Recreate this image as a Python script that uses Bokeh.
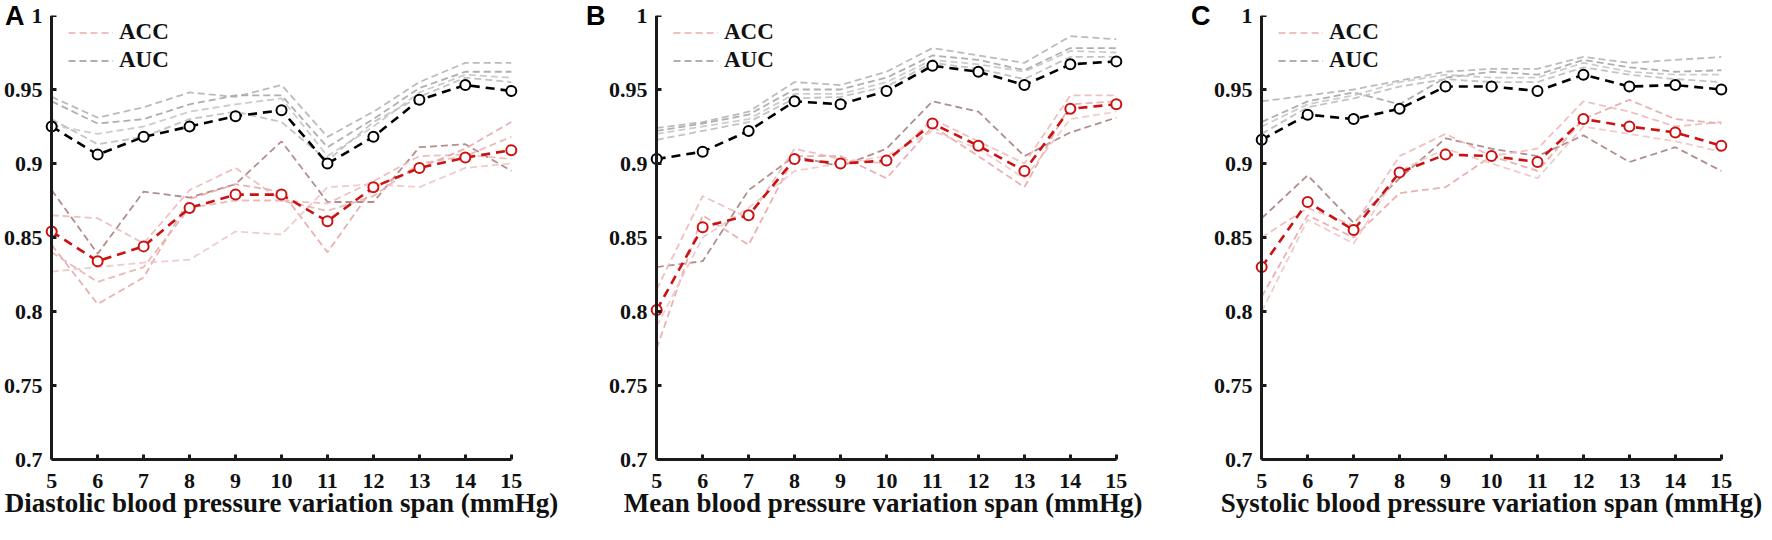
from bokeh.plotting import figure
from bokeh.layouts import row
from bokeh.models import Range1d, FixedTicker, CustomJSTickFormatter, Legend, LegendItem, LinearAxis
from bokeh.embed import file_html
from bokeh.resources import INLINE

spans = [5, 6, 7, 8, 9, 10, 11, 12, 13, 14, 15]
y_ticks = [0.7, 0.75, 0.8, 0.85, 0.9, 0.95, 1.0]

# ---- Panel A: diastolic ----
dbp_acc_mean = [0.854, 0.834, 0.844, 0.870, 0.879, 0.879, 0.861, 0.884, 0.897, 0.904, 0.909]
dbp_auc_mean = [0.925, 0.906, 0.918, 0.925, 0.932, 0.936, 0.900, 0.918, 0.943, 0.953, 0.949]
dbp_acc_run1 = [0.882, 0.839, 0.881, 0.877, 0.886, 0.915, 0.874, 0.874, 0.911, 0.913, 0.895]
dbp_acc_run2 = [0.865, 0.863, 0.846, 0.882, 0.897, 0.875, 0.873, 0.888, 0.905, 0.906, 0.903]
dbp_acc_run3 = [0.845, 0.805, 0.823, 0.876, 0.886, 0.881, 0.840, 0.884, 0.897, 0.910, 0.928]
dbp_acc_run4 = [0.827, 0.830, 0.833, 0.835, 0.854, 0.852, 0.884, 0.886, 0.884, 0.897, 0.900]
dbp_acc_run5 = [0.840, 0.820, 0.830, 0.870, 0.875, 0.875, 0.868, 0.878, 0.900, 0.905, 0.918]
dbp_auc_run1 = [0.945, 0.931, 0.938, 0.948, 0.945, 0.953, 0.918, 0.935, 0.955, 0.968, 0.968]
dbp_auc_run2 = [0.942, 0.927, 0.930, 0.940, 0.946, 0.946, 0.911, 0.930, 0.951, 0.962, 0.962]
dbp_auc_run3 = [0.926, 0.920, 0.925, 0.935, 0.940, 0.944, 0.905, 0.925, 0.948, 0.960, 0.958]
dbp_auc_run4 = [0.930, 0.913, 0.918, 0.930, 0.935, 0.928, 0.902, 0.928, 0.945, 0.958, 0.955]

# ---- Panel B: mean ----
mbp_acc_mean = [0.801, 0.857, 0.865, 0.903, 0.900, 0.902, 0.927, 0.912, 0.895, 0.937, 0.940]
mbp_auc_mean = [0.903, 0.908, 0.922, 0.942, 0.940, 0.949, 0.966, 0.962, 0.953, 0.967, 0.969]
mbp_acc_run1 = [0.830, 0.834, 0.882, 0.905, 0.898, 0.910, 0.942, 0.935, 0.905, 0.921, 0.931]
mbp_acc_run2 = [0.815, 0.878, 0.863, 0.910, 0.903, 0.900, 0.930, 0.915, 0.900, 0.946, 0.946]
mbp_acc_run3 = [0.775, 0.865, 0.845, 0.905, 0.905, 0.890, 0.925, 0.905, 0.884, 0.940, 0.942]
mbp_acc_run4 = [0.790, 0.850, 0.870, 0.895, 0.900, 0.905, 0.922, 0.910, 0.890, 0.930, 0.935]
mbp_auc_run1 = [0.924, 0.928, 0.935, 0.955, 0.953, 0.962, 0.978, 0.973, 0.968, 0.986, 0.984]
mbp_auc_run2 = [0.922, 0.927, 0.933, 0.950, 0.950, 0.958, 0.973, 0.970, 0.963, 0.978, 0.978]
mbp_auc_run3 = [0.920, 0.925, 0.930, 0.947, 0.947, 0.955, 0.970, 0.967, 0.962, 0.976, 0.975]
mbp_auc_run4 = [0.916, 0.922, 0.928, 0.944, 0.945, 0.952, 0.968, 0.964, 0.957, 0.972, 0.972]

# ---- Panel C: systolic ----
sbp_acc_mean = [0.830, 0.874, 0.855, 0.894, 0.906, 0.905, 0.901, 0.930, 0.925, 0.921, 0.912]
sbp_auc_mean = [0.916, 0.933, 0.930, 0.937, 0.952, 0.952, 0.949, 0.960, 0.952, 0.953, 0.950]
sbp_acc_run1 = [0.863, 0.892, 0.860, 0.890, 0.917, 0.910, 0.905, 0.919, 0.901, 0.911, 0.895]
sbp_acc_run2 = [0.850, 0.870, 0.858, 0.905, 0.920, 0.905, 0.910, 0.942, 0.935, 0.925, 0.928]
sbp_acc_run3 = [0.810, 0.865, 0.850, 0.880, 0.884, 0.905, 0.895, 0.930, 0.943, 0.930, 0.927]
sbp_acc_run4 = [0.800, 0.862, 0.846, 0.895, 0.910, 0.900, 0.890, 0.925, 0.920, 0.915, 0.908]
sbp_auc_run1 = [0.942, 0.946, 0.950, 0.956, 0.962, 0.964, 0.964, 0.972, 0.968, 0.970, 0.972]
sbp_auc_run2 = [0.928, 0.942, 0.948, 0.940, 0.958, 0.962, 0.960, 0.970, 0.965, 0.962, 0.963]
sbp_auc_run3 = [0.925, 0.940, 0.946, 0.955, 0.960, 0.958, 0.958, 0.968, 0.962, 0.960, 0.960]
sbp_auc_run4 = [0.920, 0.938, 0.944, 0.952, 0.957, 0.955, 0.955, 0.965, 0.960, 0.957, 0.955]

SERIF = "Liberation Serif"
ACC_COLORS = ["#a88282", "#eeb9b9", "#e8a8a8", "#f0c6c6", "#e6b2b2"]
AUC_COLORS = ["#b4b4b4", "#a6a6a6", "#c6c6c6", "#bcbcbc"]
INK = "#111111"

FRAME_H = 444


def style_ticks(ax):
    ax.axis_line_width = 3
    ax.axis_line_color = "#1a1a1a"
    ax.major_tick_line_width = 3
    ax.major_tick_line_color = "#1a1a1a"
    ax.major_tick_in = 5
    ax.major_tick_out = 0
    ax.minor_tick_line_color = None
    ax.major_label_text_font = SERIF
    ax.major_label_text_font_style = "bold"
    ax.major_label_text_font_size = "22px"
    ax.major_label_text_color = INK


def make_panel(acc_runs, auc_runs, acc_mean, auc_mean, xlabel, letter, letter_standoff,
               width, left, right):
    p = figure(width=width, height=524, frame_width=478, frame_height=FRAME_H,
               min_border_left=left, min_border_right=right, min_border_top=15,
               min_border_bottom=65,
               x_range=Range1d(4.8, 15.2), y_range=Range1d(0.7, 1.0),
               output_backend="svg", toolbar_location=None)
    p.outline_line_color = None
    p.grid.visible = False
    p.background_fill_color = "white"

    xa = p.xaxis[0]
    style_ticks(xa)
    xa.ticker = FixedTicker(ticks=spans)
    xa.bounds = (5, 15)
    xa.major_label_standoff = 14
    xa.axis_label = xlabel
    xa.axis_label_text_font = SERIF
    xa.axis_label_text_font_style = "bold"
    xa.axis_label_text_font_size = "27px"
    xa.axis_label_text_color = INK
    xa.axis_label_standoff = -3

    # left axis at the frame edge: shows only the tick labels
    ya = p.yaxis[0]
    style_ticks(ya)
    ya.ticker = FixedTicker(ticks=y_ticks)
    ya.axis_line_color = None
    ya.major_tick_line_color = None
    ya.major_label_standoff = 0
    ya.formatter = CustomJSTickFormatter(
        code="return (Math.round(tick*100)/100).toString();")

    # axis line and ticks drawn at x = 5
    yline = LinearAxis(fixed_location=5, ticker=FixedTicker(ticks=y_ticks), bounds=(0.7, 1.0))
    style_ticks(yline)
    yline.major_label_text_alpha = 0
    yline.major_label_text_font_size = "1px"
    p.add_layout(yline, "left")

    # panel letter, carried by a tickless axis whose label sits at its upper end
    lab = LinearAxis(ticker=FixedTicker(ticks=[]))
    lab.axis_line_color = None
    lab.major_tick_line_color = None
    lab.minor_tick_line_color = None
    lab.axis_label = letter
    lab.axis_label_orientation = "horizontal"
    lab.axis_label_align = "end"
    lab.axis_label_standoff = letter_standoff
    lab.axis_label_text_font = "Liberation Sans"
    lab.axis_label_text_font_style = "bold"
    lab.axis_label_text_font_size = "27px"
    lab.axis_label_text_color = "black"
    p.add_layout(lab, "left")

    acc_r = []
    for vals, c in zip(acc_runs, ACC_COLORS):
        acc_r.append(p.line(spans, vals, line_color=c, line_width=1.8, line_dash="7 4",
                            line_alpha=0.9))
    auc_r = []
    for vals, c in zip(auc_runs, AUC_COLORS):
        auc_r.append(p.line(spans, vals, line_color=c, line_width=1.8, line_dash="7 4",
                            line_alpha=0.9))

    p.line(spans, auc_mean, line_color="black", line_width=2.6, line_dash="9 6")
    p.scatter(spans, auc_mean, marker="circle", size=10, line_color="black", line_width=2,
              fill_color="white")
    p.line(spans, acc_mean, line_color="#cc1111", line_width=2.6, line_dash="9 6")
    p.scatter(spans, acc_mean, marker="circle", size=10, line_color="#cc1111", line_width=2,
              fill_color="white")

    legend = Legend(items=[LegendItem(label="ACC", renderers=[acc_r[1]]),
                           LegendItem(label="AUC", renderers=[auc_r[1]])],
                    location=(18, FRAME_H - 66), margin=0, padding=8, spacing=2,
                    glyph_width=45, glyph_height=25, label_height=25, label_standoff=6,
                    label_text_font=SERIF, label_text_font_style="bold",
                    label_text_font_size="23px", label_text_color=INK,
                    background_fill_alpha=0, border_line_alpha=0)
    p.add_layout(legend, "center")
    return p


pa = make_panel([dbp_acc_run1, dbp_acc_run2, dbp_acc_run3, dbp_acc_run4, dbp_acc_run5],
                [dbp_auc_run1, dbp_auc_run2, dbp_auc_run3, dbp_auc_run4],
                dbp_acc_mean, dbp_auc_mean,
                "Diastolic blood pressure variation span (mmHg)", "A", -24, 577, 39, 60)
pb = make_panel([mbp_acc_run1, mbp_acc_run2, mbp_acc_run3, mbp_acc_run4],
                [mbp_auc_run1, mbp_auc_run2, mbp_auc_run3, mbp_auc_run4],
                mbp_acc_mean, mbp_auc_mean,
                "Mean blood pressure variation  span (mmHg)", "B", 0, 605, 67, 60)
pc = make_panel([sbp_acc_run1, sbp_acc_run2, sbp_acc_run3, sbp_acc_run4],
                [sbp_auc_run1, sbp_auc_run2, sbp_auc_run3, sbp_auc_run4],
                sbp_acc_mean, sbp_auc_mean,
                "Systolic blood pressure variation span (mmHg)", "C", 0, 580, 67, 35)

layout = row(pa, pb, pc, spacing=0)
open("out.html", "w").write(file_html(layout, INLINE))
